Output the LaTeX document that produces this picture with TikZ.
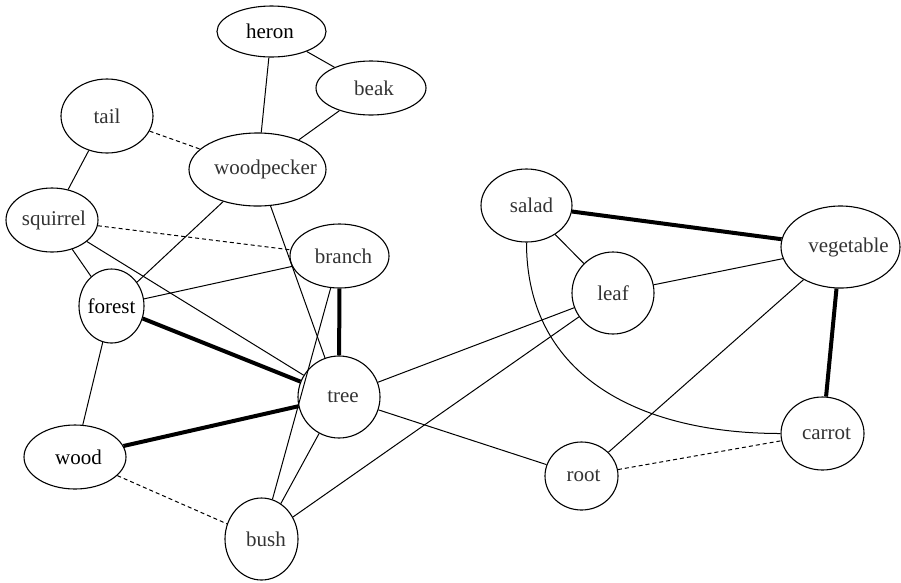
\documentclass[tikz,border=0pt]{standalone}
\usepackage{fontspec}
\setmainfont{Liberation Serif}
\usetikzlibrary{shapes.geometric}
\begin{document}
\begin{tikzpicture}[x=1pt,y=-1pt,
  concept/.style={draw, ellipse, line width=1.1pt, inner sep=0pt},
  word/.style={font=\fontsize{21}{24}\selectfont, text=black!80, inner sep=0pt},
  dark/.style={text=black},
  link/.style={line width=1.0pt},
  weak/.style={line width=1.0pt, dash pattern=on 4pt off 3pt},
  strong/.style={line width=4pt}]
\useasboundingbox (0,0) rectangle (901,582);
% word nodes: ellipse with its word as a centred label
\node[concept, minimum width=109, minimum height=51,
  label={[word, dark, xshift=-1.5]center:heron}] (heron) at (271.5,31.5) {};
\node[concept, minimum width=110, minimum height=54,
  label={[word, xshift=3]center:beak}] (beak) at (371,88) {};
\node[concept, minimum width=92, minimum height=74,
  label={[word]center:tail}] (tail) at (107,116) {};
\node[concept, minimum width=137, minimum height=73,
  label={[word, xshift=8]center:woodpecker}] (woodpecker) at (257.5,169.5) {};
\node[concept, minimum width=92, minimum height=64,
  label={[word, xshift=2]center:squirrel}] (squirrel) at (52,220) {};
\node[concept, minimum width=99, minimum height=64,
  label={[word, xshift=4]center:branch}] (branch) at (339.5,256) {};
\node[concept, minimum width=65, minimum height=74,
  label={[word, dark]center:forest}] (forest) at (111.5,306) {};
\node[concept, minimum width=82, minimum height=82,
  label={[word, xshift=4]center:tree}] (tree) at (339,397) {};
\node[concept, minimum width=102, minimum height=64,
  label={[word, dark, xshift=3.5]center:wood}] (wood) at (75,457) {};
\node[concept, minimum width=73, minimum height=82,
  label={[word, xshift=4.5]center:bush}] (bush) at (261.5,539) {};
\node[concept, minimum width=91, minimum height=73,
  label={[word, xshift=5]center:salad}] (salad) at (526.5,205.5) {};
\node[concept, minimum width=82, minimum height=82,
  label={[word]center:leaf}] (leaf) at (613,293) {};
\node[concept, minimum width=119, minimum height=82,
  label={[word, xshift=8]center:vegetable}] (vegetable) at (840.5,247) {};
\node[concept, minimum width=83, minimum height=73,
  label={[word, xshift=4]center:carrot}] (carrot) at (822.5,433.5) {};
\node[concept, minimum width=73, minimum height=68,
  label={[word, xshift=2]center:root}] (root) at (581.5,476) {};
% ordinary links
\draw[link] (heron) -- (beak);
\draw[link] (heron) -- (woodpecker);
\draw[link] (beak) -- (woodpecker);
\draw[link] (tail) -- (squirrel);
\draw[link] (squirrel) -- (forest);
\draw[link] (squirrel) -- (tree);
\draw[link] (woodpecker) -- (forest);
\draw[link] (woodpecker) -- (tree);
\draw[link] (branch) -- (forest);
\draw[link] (branch) -- (bush);
\draw[link] (forest) -- (wood);
\draw[link] (tree) -- (bush);
\draw[link] (tree) -- (leaf);
\draw[link] (tree) -- (root);
\draw[link] (leaf) -- (bush);
\draw[link] (salad) -- (leaf);
\draw[link] (leaf) -- (vegetable);
\draw[link] (vegetable) -- (root);
\draw[link] (salad.south) to[out=-90, in=180, looseness=1.1] (carrot.west);
% weak links
\draw[weak] (tail) -- (woodpecker);
\draw[weak] (squirrel) -- (branch);
\draw[weak] (wood) -- (bush);
\draw[weak] (root) -- (carrot);
% strong links
\draw[strong] (branch) -- (tree);
\draw[strong] (forest) -- (tree);
\draw[strong] (wood) -- (tree);
\draw[strong] (salad) -- (vegetable);
\draw[strong] (vegetable) -- (carrot);
\end{tikzpicture}
\end{document}
